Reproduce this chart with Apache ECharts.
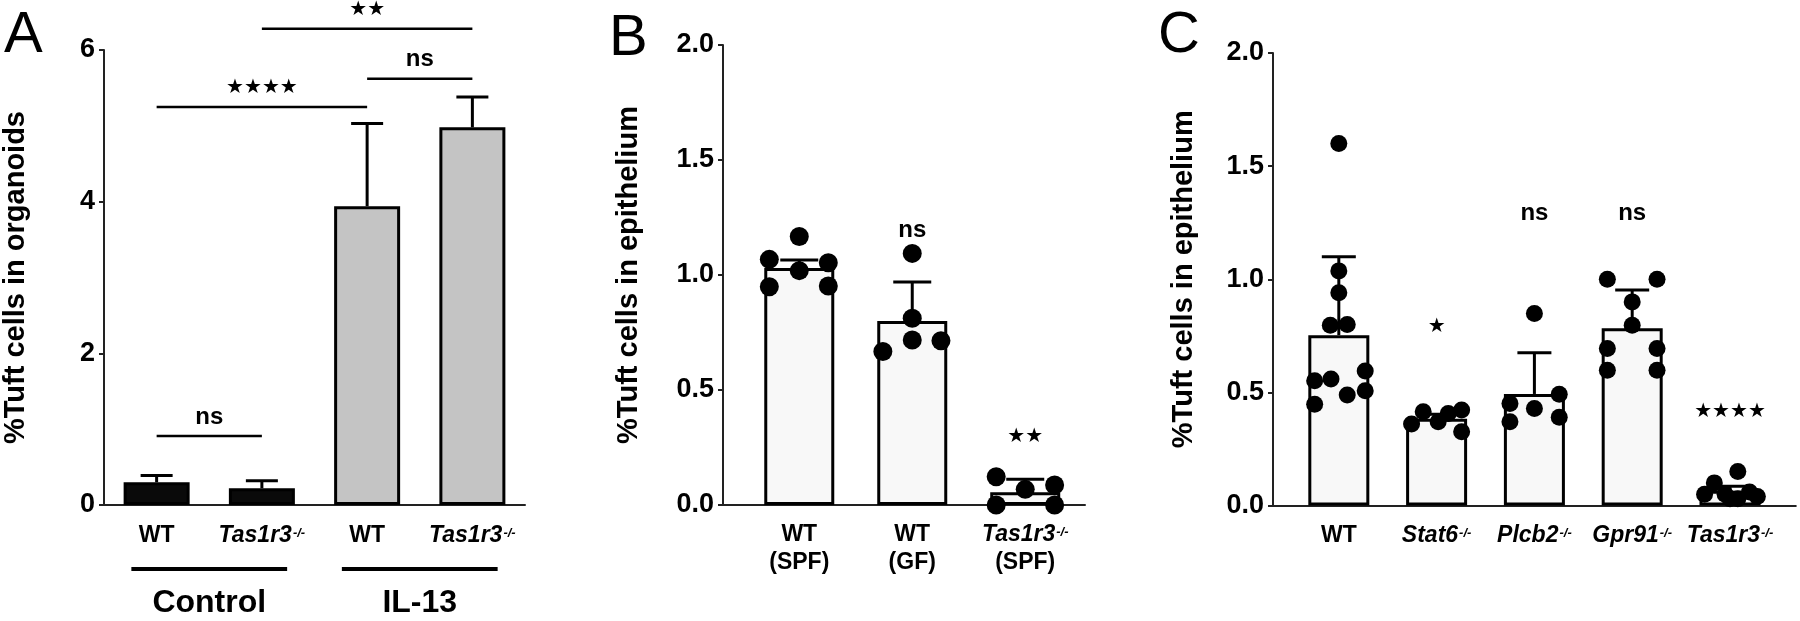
<!DOCTYPE html>
<html>
<head>
<meta charset="utf-8">
<script src="https://cdn.jsdelivr.net/npm/echarts@6/dist/echarts.min.js"></script>
<style>
  html, body { margin: 0; padding: 0; background: #fff; }
  #chart { width: 1800px; height: 621px; }
</style>
</head>
<body>
<div id="chart"></div>
<script>
// ---- data ----
// A: organoids
const aLabels = ['WT', 'Tas1r3-/-', 'WT', 'Tas1r3-/-'];
const aGroups = ['Control', 'IL-13'];
const aGroupOf = [0, 0, 1, 1];
const aMeans = [0.30, 0.22, 3.94, 4.98];
const aSem = [0.09, 0.10, 1.09, 0.40];
const aTicks = [0, 2, 4, 6];
// [from, to, height, text]
const aSig = [[0, 1, 0.91, 'ns'], [0, 2, 5.25, '★★★★'], [2, 3, 5.62, 'ns'], [1, 3, 6.28, '★★']];

// B: epithelium, SPF vs GF
const bLabels = ['WT\n(SPF)', 'WT\n(GF)', 'Tas1r3-/-\n(SPF)'];
const bMeans = [1.03, 0.80, 0.055];
const bSem = [0.035, 0.17, 0.057];
// per group: [jitter, value]
const bDots = [
  [[-0.265, 1.068], [0, 1.167], [0.257, 1.053], [0, 1.019], [-0.265, 0.949], [0.257, 0.952]],
  [[0, 1.094], [0, 0.812], [-0.26, 0.667], [0, 0.717], [0.254, 0.714]],
  [[-0.257, 0.123], [0, 0.068], [0.26, 0.087], [-0.257, 0.0], [0.26, 0.0]]
];
const bSig = [[1, 1.196, 'ns'], [2, 0.296, '★★']];

// C: epithelium, knockouts
const cLabels = ['WT', 'Stat6-/-', 'Plcb2-/-', 'Gpr91-/-', 'Tas1r3-/-'];
const cMeans = [0.753, 0.383, 0.493, 0.783, 0.065];
const cSem = [0.346, 0.02, 0.182, 0.17, 0.02];
const cDots = [
  [[0, 1.60], [0, 1.037], [0, 0.94], [-0.087, 0.797], [0.086, 0.80], [-0.247, 0.551],
   [-0.08, 0.559], [0.27, 0.594], [-0.247, 0.448], [0.086, 0.488], [0.27, 0.507]],
  [[-0.256, 0.36], [-0.137, 0.414], [0.016, 0.37], [0.119, 0.407], [0.256, 0.422], [0.256, 0.326]],
  [[0, 0.849], [-0.25, 0.451], [-0.25, 0.37], [0, 0.429], [0.254, 0.492], [0.254, 0.39]],
  [[-0.254, 1.0], [0.254, 1.0], [0, 0.90], [0, 0.797], [-0.254, 0.694], [0.254, 0.694],
   [-0.254, 0.598], [0.254, 0.598]],
  [[-0.26, 0.05], [-0.16, 0.10], [-0.05, 0.05], [0.08, 0.15], [0.08, 0.03], [0.2, 0.06],
   [0.28, 0.04], [0.0, 0.03]]
];
const cSig = [[1, 0.788, '★'], [2, 1.292, 'ns'], [3, 1.292, 'ns'], [4, 0.413, '★★★★']];
const epiTicks = [0, 0.5, 1.0, 1.5, 2.0];

// ---- styling ----
const FONT = '"Liberation Sans", Arial, sans-serif';
const STAR_FONT = '"DejaVu Sans", sans-serif';
const INK = '#000';
const AXIS = '#222';

const rich = {
  n: { fontFamily: FONT, fontWeight: 'bold', fontSize: 23, lineHeight: 28, color: INK },
  i: { fontFamily: FONT, fontWeight: 'bold', fontStyle: 'italic', fontSize: 23, lineHeight: 28, color: INK },
  s: { fontFamily: FONT, fontWeight: 'bold', fontStyle: 'italic', fontSize: 13, lineHeight: 13,
       verticalAlign: 'top', padding: [5, 0, 0, 1], color: INK }
};

function richLabel(text) {
  return text.split('\n').map(function (line) {
    if (line.endsWith('-/-')) return '{i|' + line.slice(0, -3) + '}{s|-/-}';
    return '{n|' + line + '}';
  }).join('\n');
}

function xAxisFor(gi, min, max, labels, margin) {
  return {
    gridIndex: gi, type: 'value', min: min, max: max,
    axisLine: { show: true, onZero: false, lineStyle: { color: AXIS, width: 2 } },
    axisTick: { show: false },
    splitLine: { show: false },
    axisLabel: {
      customValues: labels.map(function (_, i) { return i; }),
      margin: margin,
      formatter: function (v) { return richLabel(labels[Math.round(v)]); },
      rich: rich
    }
  };
}

function yAxisFor(gi, ticks, name, gap, digits) {
  return {
    gridIndex: gi, type: 'value',
    min: ticks[0], max: ticks[ticks.length - 1], interval: ticks[1] - ticks[0],
    name: name, nameLocation: 'middle', nameGap: gap,
    nameTextStyle: { fontFamily: FONT, fontWeight: 'bold', fontSize: 29, color: INK },
    axisLine: { show: true, onZero: false, lineStyle: { color: AXIS, width: 2 } },
    axisTick: { show: true, length: 5, lineStyle: { color: AXIS, width: 2 } },
    splitLine: { show: false },
    axisLabel: {
      margin: 9, fontFamily: FONT, fontWeight: 'bold', fontSize: 27, color: INK,
      formatter: function (v) { return v.toFixed(digits); }
    }
  };
}

function barSeries(gi, means, width, fills) {
  return {
    type: 'bar', xAxisIndex: gi, yAxisIndex: gi, barWidth: width, z: 2,
    data: means.map(function (v, i) {
      return { value: [i, v], itemStyle: { color: fills[i], borderColor: INK, borderWidth: 3 } };
    })
  };
}

function errSeries(gi, means, sems, cap) {
  return {
    type: 'custom', xAxisIndex: gi, yAxisIndex: gi, z: 3, silent: true,
    data: means.map(function (m, i) { return [i, m, sems[i]]; }),
    renderItem: function (params, api) {
      const x = api.value(0), m = api.value(1), e = api.value(2);
      const p0 = api.coord([x, m]), p1 = api.coord([x, m + e]);
      const st = { stroke: INK, lineWidth: 3 };
      return { type: 'group', children: [
        { type: 'line', shape: { x1: p0[0], y1: p0[1], x2: p1[0], y2: p1[1] }, style: st },
        { type: 'line', shape: { x1: p1[0] - cap / 2, y1: p1[1], x2: p1[0] + cap / 2, y2: p1[1] }, style: st }
      ] };
    }
  };
}

function dotSeries(gi, dots, size) {
  const pts = [];
  dots.forEach(function (g, i) { g.forEach(function (d) { pts.push([i + d[0], d[1]]); }); });
  return {
    type: 'scatter', xAxisIndex: gi, yAxisIndex: gi, z: 4, symbolSize: size,
    itemStyle: { color: INK, opacity: 1 }, data: pts
  };
}

function textStyleFor(txt) {
  const star = txt.indexOf('★') >= 0;
  return {
    text: txt, align: 'center', verticalAlign: 'middle', fill: INK,
    font: star ? '20px ' + STAR_FONT : 'bold 24px ' + FONT
  };
}

// significance text over one bar
function sigTextSeries(gi, sig) {
  return {
    type: 'custom', xAxisIndex: gi, yAxisIndex: gi, z: 5, silent: true,
    data: sig.map(function (s) { return [s[0], s[1]]; }),
    renderItem: function (params, api) {
      const p = api.coord([api.value(0), api.value(1)]);
      const st = textStyleFor(sig[params.dataIndex][2]);
      st.x = p[0]; st.y = p[1];
      return { type: 'text', style: st };
    }
  };
}

// significance bracket between two bars
function bracketSeries(gi, sig) {
  return {
    type: 'custom', xAxisIndex: gi, yAxisIndex: gi, z: 5, silent: true,
    data: sig.map(function (s) { return [s[0], s[2], s[1]]; }),
    renderItem: function (params, api) {
      const p1 = api.coord([api.value(0), api.value(1)]);
      const p2 = api.coord([api.value(2), api.value(1)]);
      const st = textStyleFor(sig[params.dataIndex][3]);
      st.x = (p1[0] + p2[0]) / 2; st.y = p1[1] - 19;
      return { type: 'group', children: [
        { type: 'line', shape: { x1: p1[0], y1: p1[1], x2: p2[0], y2: p2[1] }, style: { stroke: INK, lineWidth: 2.5 } },
        { type: 'text', style: st }
      ] };
    }
  };
}

// group underline + name below panel A axis
function groupSeries(gi) {
  const spans = aGroups.map(function (_, k) {
    const idx = aGroupOf.map(function (g, i) { return g === k ? i : -1; }).filter(function (i) { return i >= 0; });
    return [idx[0], idx[idx.length - 1]];
  });
  return {
    type: 'custom', xAxisIndex: gi, yAxisIndex: gi, z: 5, silent: true, data: spans,
    renderItem: function (params, api) {
      const p0 = api.coord([api.value(0) - 0.24, 0]);
      const p1 = api.coord([api.value(1) + 0.24, 0]);
      const y = p0[1] + 64;
      return { type: 'group', children: [
        { type: 'line', shape: { x1: p0[0], y1: y, x2: p1[0], y2: y }, style: { stroke: INK, lineWidth: 4 } },
        { type: 'text', style: { text: aGroups[params.dataIndex], x: (p0[0] + p1[0]) / 2, y: y + 34,
          align: 'center', verticalAlign: 'middle', fill: INK, font: 'bold 32px ' + FONT } }
      ] };
    }
  };
}

const groupFill = ['#0a0a0a', '#c4c4c4'];
const lightFill = '#f8f8f8';
const letterStyle = { fontFamily: FONT, fontWeight: 'normal', fontSize: 58, color: INK };

const option = {
  animation: false,
  backgroundColor: '#fff',
  title: [
    { text: 'A', left: 4, top: 7, padding: 0, textStyle: letterStyle },
    { text: 'B', left: 609, top: 10, padding: 0, textStyle: letterStyle },
    { text: 'C', left: 1158, top: 7, padding: 0, textStyle: letterStyle }
  ],
  grid: [
    { left: 104, top: 50, width: 421, height: 455, containLabel: false, outerBoundsMode: 'none' },
    { left: 723, top: 45, width: 362, height: 460, containLabel: false, outerBoundsMode: 'none' },
    { left: 1273, top: 53, width: 522.8, height: 452.5, containLabel: false, outerBoundsMode: 'none' }
  ],
  xAxis: [
    xAxisFor(0, -0.5, 3.5, aLabels, 17),
    xAxisFor(1, -0.675, 2.529, bLabels, 16),
    xAxisFor(2, -0.673, 4.673, cLabels, 16)
  ],
  yAxis: [
    yAxisFor(0, aTicks, '%Tuft cells in organoids', 74, 0),
    yAxisFor(1, epiTicks, '%Tuft cells in epithelium', 80, 1),
    yAxisFor(2, epiTicks, '%Tuft cells in epithelium', 75, 1)
  ],
  series: [
    barSeries(0, aMeans, 66, aGroupOf.map(function (g) { return groupFill[g]; })),
    errSeries(0, aMeans, aSem, 32),
    bracketSeries(0, aSig),
    groupSeries(0),

    barSeries(1, bMeans, 70, bMeans.map(function () { return lightFill; })),
    errSeries(1, bMeans, bSem, 38),
    dotSeries(1, bDots, 19),
    sigTextSeries(1, bSig),

    barSeries(2, cMeans, 61, cMeans.map(function () { return lightFill; })),
    errSeries(2, cMeans, cSem, 34),
    dotSeries(2, cDots, 17),
    sigTextSeries(2, cSig)
  ]
};

const chart = echarts.init(document.getElementById('chart'));
chart.setOption(option);
window.addEventListener('resize', function () { chart.resize(); });
</script>
</body>
</html>
